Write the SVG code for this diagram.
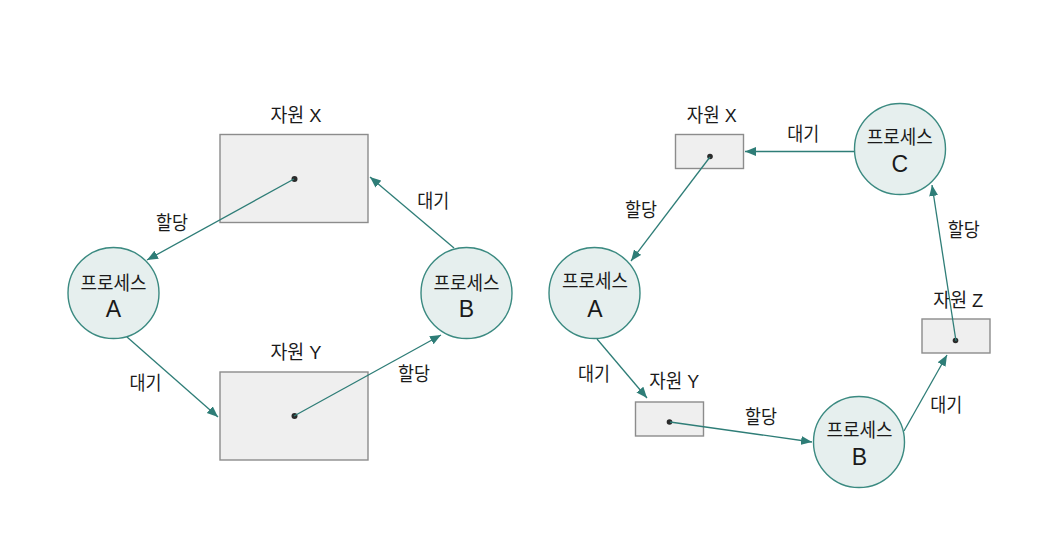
<svg xmlns="http://www.w3.org/2000/svg" width="1055" height="537" viewBox="0 0 1055 537">
<defs>
<style>
.t{font-family:"Liberation Sans","Noto Sans CJK KR",sans-serif;font-size:19px;fill:#1a1a1a;text-anchor:middle}
.l{font-family:"Liberation Sans",sans-serif;font-size:23px;fill:#1a1a1a;text-anchor:middle}
.proc{fill:#e6efee;stroke:#3b8a81;stroke-width:1.4}
.res{fill:#efefef;stroke:#8c8c8c;stroke-width:1.4}
.dot{fill:#2b2b2b}
.edge{stroke:#2e7d77;stroke-width:1.3;fill:none;marker-end:url(#ah)}
</style>
<marker id="ah" markerUnits="userSpaceOnUse" markerWidth="12" markerHeight="10" refX="11" refY="5" orient="auto">
<path d="M0,0.5 L11,5 L0,9.5 z" fill="#2e7d77"/>
</marker>
</defs>
<rect width="1055" height="537" fill="#ffffff"/>
<g id="L-resX">
<rect class="res" x="220" y="134.5" width="148" height="88"/>
<circle class="dot" cx="294.5" cy="179" r="3"/>
<text class="t" x="296" y="122" textLength="51" lengthAdjust="spacingAndGlyphs">자원 X</text>
</g>
<g id="L-resY">
<rect class="res" x="220" y="372" width="148" height="88"/>
<circle class="dot" cx="294.5" cy="416" r="3"/>
<text class="t" x="296" y="359" textLength="51" lengthAdjust="spacingAndGlyphs">자원 Y</text>
</g>
<g id="L-procA">
<circle class="proc" cx="113.5" cy="293" r="45.5"/>
<text class="t" x="113.5" y="290" textLength="66" lengthAdjust="spacingAndGlyphs">프로세스</text>
<text class="l" x="113.5" y="316.5">A</text>
</g>
<g id="L-procB">
<circle class="proc" cx="466.5" cy="293" r="45.5"/>
<text class="t" x="466.5" y="290" textLength="66" lengthAdjust="spacingAndGlyphs">프로세스</text>
<text class="l" x="466.5" y="316.5">B</text>
</g>
<g id="R-resX">
<rect class="res" x="675.5" y="134.5" width="68" height="34"/>
<circle class="dot" cx="710" cy="156.5" r="2.8"/>
<text class="t" x="711.7" y="122" textLength="50" lengthAdjust="spacingAndGlyphs">자원 X</text>
</g>
<g id="R-resY">
<rect class="res" x="635.5" y="402" width="68" height="34"/>
<circle class="dot" cx="669.5" cy="422" r="2.8"/>
<text class="t" x="674.3" y="387.5" textLength="50" lengthAdjust="spacingAndGlyphs">자원 Y</text>
</g>
<g id="R-resZ">
<rect class="res" x="922" y="319" width="68" height="34"/>
<circle class="dot" cx="955.5" cy="340.5" r="2.8"/>
<text class="t" x="958.3" y="306.5" textLength="50" lengthAdjust="spacingAndGlyphs">자원 Z</text>
</g>
<g id="R-procA">
<circle class="proc" cx="594.5" cy="293" r="45.5"/>
<text class="t" x="595" y="288" textLength="66" lengthAdjust="spacingAndGlyphs">프로세스</text>
<text class="l" x="595" y="316.5">A</text>
</g>
<g id="R-procB">
<circle class="proc" cx="859" cy="442" r="45.5"/>
<text class="t" x="859.5" y="437" textLength="66" lengthAdjust="spacingAndGlyphs">프로세스</text>
<text class="l" x="859.5" y="465">B</text>
</g>
<g id="R-procC">
<circle class="proc" cx="900" cy="149" r="45.5"/>
<text class="t" x="899.7" y="144" textLength="66" lengthAdjust="spacingAndGlyphs">프로세스</text>
<text class="l" x="899.7" y="172">C</text>
</g>
<g id="edges">
<line class="edge" x1="294" y1="179" x2="147" y2="260"/>
<line class="edge" x1="127" y1="337" x2="218" y2="417"/>
<line class="edge" x1="294" y1="416" x2="441" y2="335"/>
<line class="edge" x1="454" y1="248" x2="370" y2="177"/>
<line class="edge" x1="854" y1="151.5" x2="745" y2="151.5"/>
<line class="edge" x1="710" y1="157" x2="631" y2="261"/>
<line class="edge" x1="597" y1="339" x2="647" y2="398"/>
<line class="edge" x1="670" y1="422" x2="812" y2="442"/>
<line class="edge" x1="904" y1="431" x2="947" y2="355"/>
<line class="edge" x1="956" y1="341" x2="932" y2="185"/>
</g>
<g id="edge-labels">
<text class="t" x="172" y="230" textLength="32" lengthAdjust="spacingAndGlyphs">할당</text>
<text class="t" x="145.5" y="390" textLength="32" lengthAdjust="spacingAndGlyphs">대기</text>
<text class="t" x="414" y="381" textLength="32" lengthAdjust="spacingAndGlyphs">할당</text>
<text class="t" x="433.3" y="208" textLength="32" lengthAdjust="spacingAndGlyphs">대기</text>
<text class="t" x="803.3" y="140.5" textLength="32" lengthAdjust="spacingAndGlyphs">대기</text>
<text class="t" x="641" y="217" textLength="32" lengthAdjust="spacingAndGlyphs">할당</text>
<text class="t" x="594" y="381" textLength="32" lengthAdjust="spacingAndGlyphs">대기</text>
<text class="t" x="761" y="424" textLength="32" lengthAdjust="spacingAndGlyphs">할당</text>
<text class="t" x="946.3" y="412" textLength="32" lengthAdjust="spacingAndGlyphs">대기</text>
<text class="t" x="963.7" y="237" textLength="32" lengthAdjust="spacingAndGlyphs">할당</text>
</g>
</svg>
